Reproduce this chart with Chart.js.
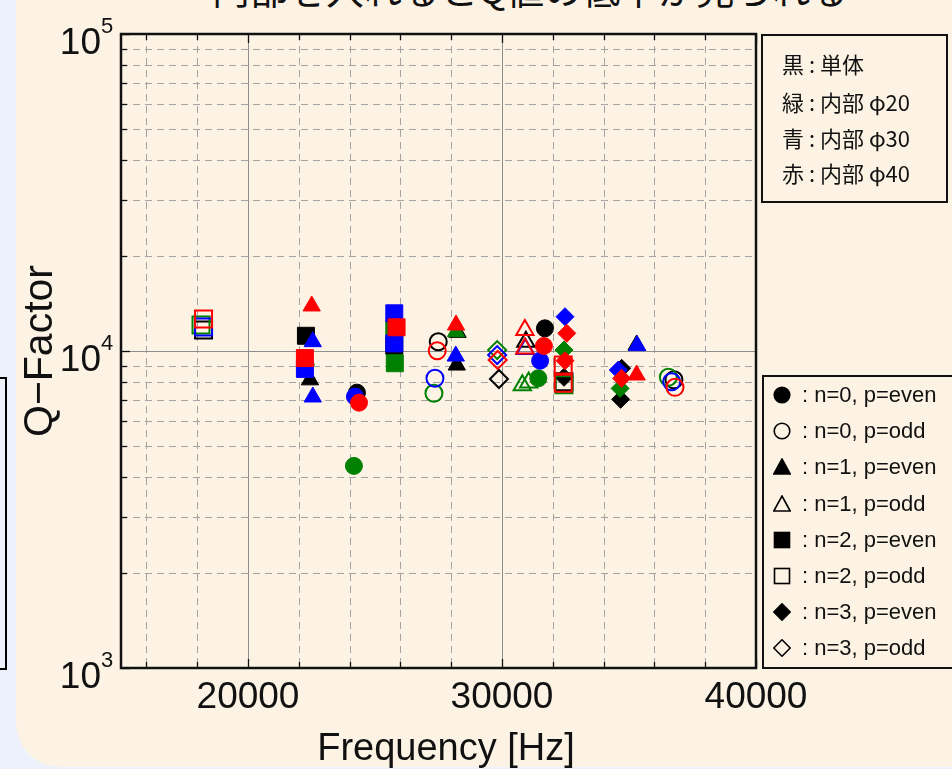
<!DOCTYPE html>
<html>
<head>
<meta charset="utf-8">
<script src="https://cdn.jsdelivr.net/npm/chart.js@4.4.1/dist/chart.umd.min.js"></script>
<style>
  html, body { margin: 0; padding: 0; width: 952px; height: 769px; overflow: hidden; background: #ecf1fb; }
  #panel { position: absolute; left: 16px; top: -40px; width: 1000px; height: 807px; background: #fdf3e4; border-bottom-left-radius: 44px; }
  #leftbox { position: absolute; left: -12px; top: 377px; width: 15px; height: 289px; border: 2px solid #000; }
  #title { position: absolute; left: 212px; top: -31px; font: 38px "Noto Sans CJK JP"; line-height: 38px; white-space: nowrap; color: #111; }
  #qchart { position: absolute; left: 0; top: 0; }
  .box { position: absolute; border: 2px solid #111; box-sizing: border-box; }
  #box1 { left: 761px; top: 34px; width: 187px; height: 169px; }
  #box2 { left: 762px; top: 375px; width: 200px; height: 294px; }
  .cjk { position: absolute; left: 782px; font: 22px "Noto Sans CJK JP"; line-height: 28px; color: #111; white-space: nowrap; }
  .mode { position: absolute; left: 802px; font: 22px "Liberation Sans", Arial, sans-serif; line-height: 26px; color: #111; white-space: nowrap; }
  .mk { position: absolute; left: 773px; width: 18px; height: 18px; }
</style>
</head>
<body>
<div id="panel"></div>
<div id="leftbox"></div>
<div id="title">内部を入れるとQ値の低下が見られる</div>
<canvas id="qchart" width="952" height="769"></canvas>
<div class="box" id="box1"></div>
<div class="box" id="box2"></div>
<div id="legends"></div>
<script>
// axis ticks
var freqLabels = [20000, 30000, 40000];
var freqMinor = [16000, 18000, 22000, 24000, 26000, 28000, 32000, 34000, 36000, 38000];
var qDecades = [1000, 10000, 100000];

// legend text
var colorNotes = ["黒 : 単体", "緑 : 内部 φ20", "青 : 内部 φ30", "赤 : 内部 φ40"];
var modeKeys = ["n0e", "n0o", "n1e", "n1o", "n2e", "n2o", "n3e", "n3o"];
var modeLabels = [": n=0, p=even", ": n=0, p=odd", ": n=1, p=even", ": n=1, p=odd",
                  ": n=2, p=even", ": n=2, p=odd", ": n=3, p=even", ": n=3, p=odd"];

// black : 単体
var blackFreq = [18250, 22280, 22440, 24290, 25760, 27490, 28250, 28220, 29880, 30940, 31690, 32440, 32440, 34710, 34670, 35300, 36770];
var blackQ    = [11640, 11170, 8110, 7390, 10370, 10700, 11450, 9030, 8160, 10700, 11790, 8260, 8000, 8820, 7040, 10450, 8110];
var blackMode = ["n2o", "n2e", "n1e", "n0e", "n2e", "n0o", "n1e", "n1e", "n3o", "n1o", "n0e", "n3e", "n2o", "n3e", "n3e", "n1e", "n0o"];

// green : φ20
var greenFreq = [18150, 22280, 24170, 25760, 25780, 27320, 28190, 29810, 30800, 31050, 31430, 32440, 32440, 34650, 36550];
var greenQ    = [12080, 9370, 4340, 11700, 9150, 7360, 11510, 10070, 7800, 7950, 8200, 10070, 7820, 7620, 8260];
var greenMode = ["n2o", "n1e", "n0e", "n2e", "n2e", "n0o", "n1e", "n3o", "n1o", "n1o", "n0e", "n3e", "n2o", "n3e", "n0o"];

// blue : φ30
var blueFreq = [18250, 22550, 22240, 22550, 24210, 25760, 25760, 27360, 28180, 29810, 30920, 31500, 32480, 34580, 35320, 36680];
var blueQ    = [11900, 10700, 8780, 7160, 7180, 13150, 10570, 8200, 9640, 9710, 10150, 9320, 12830, 8710, 10400, 8000];
var blueMode = ["n2o", "n1e", "n2e", "n1e", "n0e", "n2e", "n2e", "n0o", "n1e", "n3o", "n1o", "n0e", "n3e", "n3e", "n1e", "n0o"];

// red : φ40
var redFreq = [18250, 22508, 22240, 24370, 25850, 27450, 28190, 29830, 30900, 30900, 31650, 32550, 32480, 32410, 32410, 34710, 35300, 36810];
var redQ    = [12620, 13870, 9500, 6870, 11880, 10020, 12080, 9370, 11650, 10190, 10370, 11370, 9320, 9030, 7910, 8200, 8400, 7680];
var redMode = ["n2o", "n1e", "n2e", "n0e", "n2e", "n0o", "n1e", "n3o", "n1o", "n1o", "n0e", "n3e", "n3e", "n2o", "n2o", "n3e", "n1e", "n0o"];

var markerOf = {
  n0e: { style: "circle", fill: true, r: 8.5 },
  n0o: { style: "circle", fill: false, r: 8.5 },
  n1e: { style: "triangle", fill: true, r: 10 },
  n1o: { style: "triangle", fill: false, r: 10 },
  n2e: { style: "rect", fill: true, r: 12 },
  n2o: { style: "rect", fill: false, r: 12 },
  n3e: { style: "rectRot", fill: true, r: 9 },
  n3o: { style: "rectRot", fill: false, r: 9 }
};

function makeSet(label, color, freq, q, mode, order) {
  return {
    label: label,
    order: order,
    data: freq.map(function (f, i) { return { x: f, y: q[i] }; }),
    pointStyle: mode.map(function (m) { return markerOf[m].style; }),
    pointRadius: mode.map(function (m) { return markerOf[m].r; }),
    pointBackgroundColor: mode.map(function (m) { return markerOf[m].fill ? color : "rgba(0,0,0,0)"; }),
    pointBorderColor: color,
    pointBorderWidth: mode.map(function (m) { return markerOf[m].fill ? 1 : 2; }),
    showLine: false
  };
}

var axisFont = '"Liberation Sans", Arial, sans-serif';

var framePlugin = {
  id: "frame",
  beforeDatasetsDraw: function (chart) {
    var ctx = chart.ctx, a = chart.chartArea, x = chart.scales.x, y = chart.scales.y;
    ctx.save();
    ctx.lineWidth = 1;
    ctx.strokeStyle = "#a3a3a3";
    ctx.setLineDash([7, 5]);
    freqMinor.forEach(function (f) {
      var px = Math.round(x.getPixelForValue(f)) + 0.5;
      ctx.beginPath(); ctx.moveTo(px, a.top); ctx.lineTo(px, a.bottom); ctx.stroke();
    });
    qDecades.forEach(function (d) {
      for (var m = 2; m <= 9; m++) {
        if (d * m > 100000) continue;
        var py = Math.round(y.getPixelForValue(d * m)) + 0.5;
        ctx.beginPath(); ctx.moveTo(a.left, py); ctx.lineTo(a.right, py); ctx.stroke();
      }
    });
    ctx.setLineDash([]);
    ctx.strokeStyle = "#8e8e8e";
    freqLabels.forEach(function (f) {
      var px = Math.round(x.getPixelForValue(f)) + 0.5;
      ctx.beginPath(); ctx.moveTo(px, a.top); ctx.lineTo(px, a.bottom); ctx.stroke();
    });
    var p4 = Math.round(y.getPixelForValue(10000)) + 0.5;
    ctx.beginPath(); ctx.moveTo(a.left, p4); ctx.lineTo(a.right, p4); ctx.stroke();
    ctx.restore();
  },
  afterDatasetsDraw: function (chart) {
    var ctx = chart.ctx, a = chart.chartArea, x = chart.scales.x, y = chart.scales.y;
    ctx.save();
    ctx.strokeStyle = "#111";
    ctx.lineWidth = 1.3;
    function vtick(f, len) {
      var px = Math.round(x.getPixelForValue(f)) + 0.5;
      ctx.beginPath();
      ctx.moveTo(px, a.top); ctx.lineTo(px, a.top + len);
      ctx.moveTo(px, a.bottom); ctx.lineTo(px, a.bottom - len);
      ctx.stroke();
    }
    freqMinor.forEach(function (f) { vtick(f, 6); });
    freqLabels.forEach(function (f) { vtick(f, 9); });
    qDecades.forEach(function (d) {
      for (var m = 1; m <= 9; m++) {
        if (d * m > 100000) continue;
        var py = Math.round(y.getPixelForValue(d * m)) + 0.5;
        ctx.beginPath(); ctx.moveTo(a.left, py); ctx.lineTo(a.left + (m === 1 ? 9 : 6), py); ctx.stroke();
      }
    });
    ctx.lineWidth = 2.5;
    ctx.strokeRect(a.left, a.top, a.right - a.left, a.bottom - a.top);
    ctx.restore();
  },
  afterDraw: function (chart) {
    var ctx = chart.ctx, a = chart.chartArea, y = chart.scales.y;
    ctx.save();
    ctx.fillStyle = "#111";
    qDecades.forEach(function (d) {
      var py = y.getPixelForValue(d);
      ctx.font = "37px " + axisFont;
      ctx.textAlign = "right";
      ctx.textBaseline = "alphabetic";
      ctx.fillText("10", 101, py + 19.5);
      ctx.font = "22px " + axisFont;
      ctx.textAlign = "left";
      ctx.fillText(String(Math.round(Math.log10(d))), 101, py - 1);
    });
    ctx.font = "38px " + axisFont;
    ctx.textAlign = "center";
    ctx.fillText("Frequency [Hz]", 446, 760);
    ctx.font = "41px " + axisFont;
    ctx.translate(52, (a.top + a.bottom) / 2);
    ctx.rotate(-Math.PI / 2);
    ctx.fillText("Q\u2212Factor", 0, 0);
    ctx.restore();
  }
};

new Chart("qchart", {
  type: "scatter",
  data: {
    datasets: [
      makeSet("赤", "#ff0000", redFreq, redQ, redMode, 0),
      makeSet("青", "#0000ff", blueFreq, blueQ, blueMode, 1),
      makeSet("緑", "#008000", greenFreq, greenQ, greenMode, 2),
      makeSet("黒", "#000000", blackFreq, blackQ, blackMode, 3)
    ]
  },
  options: {
    responsive: false,
    animation: false,
    layout: { padding: { left: 0, top: 34, right: 196, bottom: 0 } },
    plugins: {
      legend: { display: false },
      tooltip: { enabled: false },
      title: { display: false }
    },
    scales: {
      x: {
        type: "linear",
        min: 15000,
        max: 40000,
        grid: { display: false, drawTicks: false },
        border: { display: false },
        afterBuildTicks: function (s) {
          s.ticks = freqLabels.map(function (v) { return { value: v }; });
        },
        ticks: {
          autoSkip: false,
          maxRotation: 0,
          padding: 8,
          color: "#111",
          font: { family: axisFont, size: 37 },
          callback: function (v) { return String(v); }
        },
        afterFit: function (s) { s.height = 101; }
      },
      y: {
        type: "logarithmic",
        min: 1000,
        max: 100000,
        grid: { display: false, drawTicks: false },
        border: { display: false },
        ticks: { display: false },
        afterFit: function (s) { s.width = 121; }
      }
    }
  },
  plugins: [framePlugin]
});

// legend boxes
var legendHtml = "";
colorNotes.forEach(function (t, i) {
  var cy = [63, 101, 137, 172][i];
  legendHtml += '<div class="cjk" style="top:' + (cy - 14) + 'px">' + t + '</div>';
});
var shapes = {
  circle: '<circle cx="9" cy="9" r="7.8"/>',
  triangle: '<polygon points="9,1 17.2,16 0.8,16"/>',
  rect: '<rect x="1.5" y="1.5" width="15" height="15"/>',
  rectRot: '<polygon points="9,0.8 17.2,9 9,17.2 0.8,9"/>'
};
modeKeys.forEach(function (k, i) {
  var cy = 395 + i * 36.2;
  var mk = markerOf[k];
  legendHtml += '<svg class="mk" style="top:' + (cy - 9) + 'px" viewBox="0 0 18 18"><g fill="' +
    (mk.fill ? "#000" : "none") + '" stroke="#000" stroke-width="1.6">' + shapes[mk.style] + '</g></svg>';
  legendHtml += '<div class="mode" style="top:' + (cy - 13) + 'px">' + modeLabels[i] + '</div>';
});
document.getElementById("legends").innerHTML = legendHtml;
</script>
</body>
</html>
